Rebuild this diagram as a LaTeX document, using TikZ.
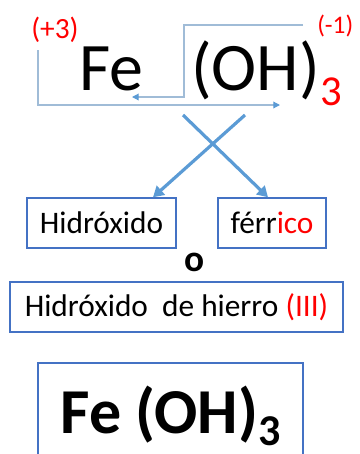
\documentclass[tikz,border=0pt]{standalone}
\usepackage{fontspec}
\setmainfont{Carlito}
\usetikzlibrary{arrows.meta}
\definecolor{thinblue}{RGB}{160,188,215}
\definecolor{tipblue}{RGB}{91,155,213}
\definecolor{crossblue}{RGB}{91,155,213}
\definecolor{boxblue}{RGB}{68,114,196}
\definecolor{oxred}{RGB}{255,0,0}
\begin{document}
\begin{tikzpicture}[x=0.75pt, y=-0.75pt,
  swap/.style={draw=thinblue, line width=0.9pt, -{Triangle[length=5pt, width=5pt, color=tipblue]}},
  cross/.style={draw=crossblue, line width=2.4pt, -{Triangle[length=8pt, width=9pt]}},
  namebox/.style={draw=boxblue, line width=1.1pt, inner sep=0pt, minimum height=37.5pt,
    font=\fontsize{23.5}{26}\selectfont},
  formula/.style={anchor=base west, inner sep=0pt, font=\fontsize{51}{56}\selectfont},
  charge/.style={text=oxred, inner sep=0pt, anchor=base west}]

% Frame
\useasboundingbox (0,0) rectangle (360,454);
\clip (0,0) rectangle (360,454);

% Formula
\node[formula] (fe) at (79,90) {Fe};
\node[formula] (oh) at (191,90) {(OH)};
\node[formula, text=oxred, font=\fontsize{32}{36}\selectfont] (sub) at (320,105) {3};

% Charges
\node[charge, font=\fontsize{22}{24}\selectfont] (pos) at (31,38) {(+3)};
\node[charge, font=\fontsize{19}{22}\selectfont] (neg) at (317,33) {(-1)};

% Crossing of the charges
\coordinate (posdown) at (38,105);
\coordinate (negleft) at (303,25);
\coordinate (negbend) at (184,25);
\draw[swap] (38,50) -- (posdown) -- (280,105);
\draw[swap] (negleft) -- (negbend) -- (184,97) -- (132,97);

% Name boxes
\node[namebox, minimum width=111.75pt] (hid) at (101.5,223) {Hidróxido};
\node[namebox, minimum width=81pt] (fer) at (272,223) {férr\textcolor{oxred}{ico}};
\node[font=\bfseries\fontsize{28}{30}\selectfont, inner sep=0pt] (or) at (195,262) {o};
\node[namebox, minimum width=249.75pt] (hie) at (176.5,307) {Hidróxido\ \ de hierro \textcolor{oxred}{(III)}};

% Arrows to the names
\coordinate (xl) at (183,115);
\coordinate (xr) at (245,115);
\draw[cross] (xl) -- (fer.north -| 268,0);
\draw[cross] (xr) -- (hid.north -| 153,0);

% Final formula (box runs past the lower edge)
\draw[boxblue, line width=1.1pt] (38,363) rectangle (303,490);
\node[inner sep=0pt, anchor=base, font=\bfseries\fontsize{48}{52}\selectfont] (res) at (170.5,433)
      {Fe (OH)\raisebox{-9pt}{\fontsize{33}{36}\selectfont 3}};

\end{tikzpicture}
\end{document}
